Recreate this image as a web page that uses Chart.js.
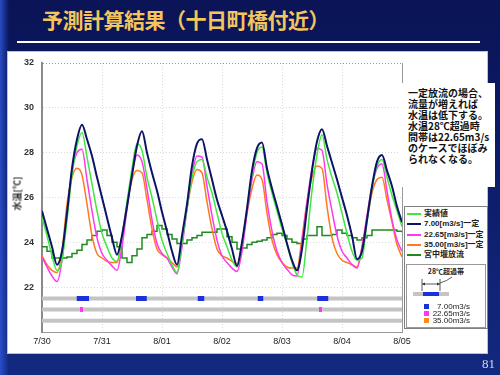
<!DOCTYPE html>
<html>
<head>
<meta charset="utf-8">
<title>予測計算結果(十日町橋付近)</title>
<script src="https://cdn.jsdelivr.net/npm/chart.js"></script>
<style>
  body {
    margin: 0; width: 500px; height: 375px; overflow: hidden; position: relative;
    background:
      linear-gradient(90deg, rgba(45,85,215,0.85) 0px, rgba(45,85,215,0) 9px),
      linear-gradient(180deg, #0a1456 0%, #0e1e6c 55%, #13297f 100%);
    font-family: "Noto Sans CJK JP", sans-serif;
  }
  #title { position: absolute; left: 42px; top: 4px; font-size: 21px; letter-spacing: -0.5px; font-weight: bold; color: #f3c55c; white-space: nowrap; }
  #rule { position: absolute; left: 17px; top: 41px; width: 463px; height: 2px; background: #fff; }
  #panel { position: absolute; left: 7px; top: 51px; width: 479px; height: 301px; background: #fff; border: 1px solid #b8c0dc; }
  #myChart { position: absolute; left: 0; top: 0; }
  #ylabel { position: absolute; left: -3px; top: 187px; width: 40px; text-align: center; font-size: 9px; font-weight: bold; color: #333; transform: rotate(-90deg); }
  #note { position: absolute; left: 400px; top: 83px; width: 95px; height: 104px; background: #fff; }
  #note div { position: absolute; left: 8px; top: 4px; font-size: 10px; line-height: 11px; font-weight: bold; color: #111; white-space: nowrap; }
  #legend { position: absolute; left: 404px; top: 206px; width: 82px; height: 121px; background: #fff; border: 1px solid #808080; }
  .row { position: absolute; left: 2px; height: 10px; }
  .row i { position: absolute; left: 0; top: 4px; width: 14px; height: 2px; }
  .row span { position: absolute; left: 17px; top: -1px; font-family: "Liberation Sans", "Noto Sans CJK JP", sans-serif; font-size: 8px; font-weight: bold; color: #222; white-space: nowrap; line-height: 11px; }
  #band { position: absolute; left: 1px; top: 57px; width: 78px; height: 62px; border: 1px solid #999; }
  #bandTitle { position: absolute; left: 0; width: 78px; top: 1px; text-align: center; font-size: 7px; font-weight: bold; color: #222; }
  .sq { position: absolute; left: 17px; width: 5px; height: 5px; }
  .sqt { position: absolute; left: 22px; width: 41px; text-align: right; font-family: "Liberation Sans", sans-serif; font-size: 8px; color: #222; line-height: 8px; }
  #page { position: absolute; right: 5px; top: 356px; font-family: "Liberation Serif", serif; font-size: 13px; color: #d0d8f0; }
</style>
</head>
<body>
  <div id="title">予測計算結果（十日町橋付近）</div>
  <div id="rule"></div>
  <div id="panel"></div>
  <canvas id="myChart" width="500" height="375"></canvas>
  <div id="ylabel">水温[℃]</div>
  <div id="note"><div>一定放流の場合、<br>流量が増えれば<br>水温は低下する。<br>水温28℃超過時<br>間帯は22.65m3/s<br>のケースでほぼみ<br>られなくなる。</div></div>
  <div id="legend"></div>
  <div id="page">81</div>

  <script>
    // time axis: hours from 7/30 00:00, every 2 hours
    const hours = [0, 2, 4, 6, 8, 10, 12, 14, 16, 18, 20, 22,
      24, 26, 28, 30, 32, 34, 36, 38, 40, 42, 44, 46,
      48, 50, 52, 54, 56, 58, 60, 62, 64, 66, 68, 70,
      72, 74, 76, 78, 80, 82, 84, 86, 88, 90, 92, 94,
      96, 98, 100, 102, 104, 106, 108, 110, 112, 114, 116, 118,
      120, 122, 124, 126, 128, 130, 132, 134, 136, 138, 140, 142,
      144];
    const dateLabels = ['7/30', '7/31', '8/01', '8/02', '8/03', '8/04', '8/05'];

    const observed = [25.1, 24.3, 23.4, 22.75, 23.2, 25.0, 27.0, 28.3, 28.9, 27.8, 26.6, 25.4,
      24.4, 23.8, 23.3, 23.15, 24.3, 25.8, 27.3, 28.4, 28.1, 26.9, 26.0, 25.0,
      24.1, 23.5, 23.0, 22.65, 24.0, 25.5, 26.9, 27.6, 27.7, 26.9, 26.2, 25.3,
      24.4, 23.8, 23.2, 22.9, 24.0, 25.5, 27.0, 28.0, 28.25, 27.1, 26.2, 25.4,
      24.6, 23.9, 23.1, 22.55, 22.45, 24.2, 26.3, 27.9, 28.8, 27.7, 26.9, 26.2,
      25.3, 24.4, 23.6, 23.2, 23.3, 24.9, 26.4, 27.4, 27.7, 26.9, 26.1, 25.4,
      24.7];
    const flow700 = [25.4, 24.6, 23.8, 23.0, 23.6, 25.3, 27.3, 28.6, 29.25, 28.6, 27.85, 26.9,
      26.0, 25.1, 24.2, 23.45, 24.3, 25.6, 27.0, 28.3, 28.95, 28.0, 27.1, 26.3,
      25.35, 24.5, 23.6, 23.0, 24.3, 25.7, 27.4, 28.4, 28.6, 27.7, 26.8, 25.9,
      25.2, 24.5, 23.7, 22.95, 24.0, 25.5, 27.2, 28.2, 28.45, 27.3, 26.4, 25.6,
      24.8, 23.95, 23.2, 22.75, 23.7, 25.5, 27.2, 28.5, 29.05, 28.3, 27.55, 26.8,
      26.0, 25.2, 24.3, 23.25, 23.6, 25.0, 26.5, 27.6, 27.9, 27.2, 26.5, 25.6,
      24.9];
    const flow2265 = [23.35, 22.9, 22.5, 22.25, 23.2, 25.3, 27.2, 28.0, 28.15, 26.8, 25.4, 24.2,
      23.5, 23.2, 22.95, 22.75, 23.8, 25.5, 27.0, 27.9, 27.6, 26.4, 25.0, 23.95,
      23.5, 23.3, 22.9, 22.6, 23.8, 25.5, 27.0, 27.85, 27.8, 26.5, 25.2, 24.1,
      23.4, 23.1, 22.85, 22.7, 23.6, 25.3, 26.8, 27.6, 27.5, 25.8, 24.5, 23.6,
      23.1, 22.8, 22.55, 22.5, 24.0, 25.8, 27.3, 28.2, 28.1, 26.6, 25.4, 24.3,
      23.6, 23.3, 23.0, 22.85, 23.8, 25.2, 26.5, 27.3, 27.5, 26.3, 25.0, 24.1,
      23.6];
    const flow3500 = [23.4, 23.0, 22.75, 22.65, 23.6, 25.7, 26.9, 27.3, 27.0, 25.7, 24.3, 23.5,
      23.3, 23.15, 23.1, 23.1, 24.2, 25.7, 26.8, 27.2, 27.1, 25.9, 24.6, 23.7,
      23.45, 23.3, 23.1, 22.9, 24.0, 25.5, 26.7, 27.25, 27.1, 25.8, 24.6, 23.7,
      23.4, 23.3, 23.15, 23.05, 23.9, 25.3, 26.4, 27.0, 26.8, 25.3, 24.1, 23.45,
      23.1, 22.9, 22.85, 22.85, 24.2, 25.8, 26.9, 27.4, 27.3, 25.6, 24.2, 23.5,
      23.2, 23.1, 23.0, 22.9, 23.8, 25.0, 26.2, 26.8, 26.9, 25.9, 24.9, 23.9,
      23.35];
    const damRelease = [23.8, 23.6, 23.3, 23.3, 23.3, 23.35, 23.5, 23.65, 23.9, 24.1, 24.3, 24.5,
      24.55, 24.3, 24.0, 23.8, 23.3, 23.1, 23.4, 23.7, 24.2, 24.35, 24.5, 24.75,
      24.6, 24.35, 24.15, 23.95, 23.95, 24.1, 24.2, 24.3, 24.45, 24.45, 24.45, 24.6,
      24.6, 24.25, 24.0, 23.7, 23.75, 23.9, 24.0, 24.05, 24.1, 24.2, 24.35, 24.4,
      24.3, 24.15, 24.0, 23.95, 24.15, 24.3, 24.3, 24.7, 24.3, 24.3, 24.35, 24.55,
      24.4, 24.3, 24.2, 24.1, 24.2, 24.3, 24.55, 24.55, 24.55, 24.55, 24.55, 24.5,
      24.45];

    // hours above 28℃ (start / end) for each constant-flow case
    const over700Start = [13.9, 37.6, 62.3, 86.3, 110.1];
    const over700End = [18.8, 41.9, 64.9, 88.5, 114.5];
    const over2265Start = [15.2, 110.8];
    const over2265End = [16.4, 112.0];
    const over3500Start = [];
    const over3500End = [];
    const bandLevels = [21.5, 21.0, 20.5];

    const seriesNames = ['実績値', '7.00[m3/s]一定', '22.65[m3/s]一定', '35.00[m3/s]一定', '宮中堰放流'];
    const caseNames = ['7.00m3/s', '22.65m3/s', '35.00m3/s'];

    const seriesColors = ['#3ee83e', '#0c1466', '#ff38f0', '#ff7a1c', '#1f8a1f'];
    const caseColors = ['#1a32d8', '#ff38f0', '#ff8a20'];

    function pts(vals) {
      return hours.map((h, i) => ({ x: h, y: vals[i] }));
    }
    function spans(starts, ends, level) {
      const out = [];
      starts.forEach((s, i) => {
        out.push({ x: s, y: level }, { x: ends[i], y: level }, { x: ends[i], y: null });
      });
      return out;
    }
    function curve(label, vals, color, width, order, stepped) {
      return {
        label: label, data: pts(vals), borderColor: color, borderWidth: width,
        pointRadius: 0, cubicInterpolationMode: 'monotone', stepped: stepped || false, order: order
      };
    }
    function band(data, color, width, order) {
      return { data: data, borderColor: color, borderWidth: width, pointRadius: 0, borderCapStyle: 'butt', spanGaps: false, order: order };
    }

    Chart.defaults.font.family = "'Liberation Sans', Arial, sans-serif";

    const datasets = [
      curve(seriesNames[1], flow700, seriesColors[1], 2, 1),
      curve(seriesNames[0], observed, seriesColors[0], 1.5, 2),
      curve(seriesNames[2], flow2265, seriesColors[2], 1.5, 3),
      curve(seriesNames[3], flow3500, seriesColors[3], 1.5, 4),
      curve(seriesNames[4], damRelease, seriesColors[4], 1.5, 5, true)
    ];
    bandLevels.forEach((lv) => {
      datasets.push(band([{ x: 0, y: lv }, { x: 144, y: lv }], '#c4c4c4', 4, 8));
    });
    datasets.push(band(spans(over700Start, over700End, bandLevels[0]), caseColors[0], 5, 6));
    datasets.push(band(spans(over2265Start, over2265End, bandLevels[1]), caseColors[1], 5, 6));
    datasets.push(band(spans(over3500Start, over3500End, bandLevels[2]), caseColors[2], 5, 6));

    var ctx = document.getElementById('myChart').getContext('2d');
    var myChart = new Chart(ctx, {
      type: 'line',
      data: { datasets: datasets },
      options: {
        responsive: false,
        animation: false,
        layout: { padding: { left: 12, right: 98, top: 63, bottom: 23 } },
        plugins: { legend: { display: false }, tooltip: { enabled: false } },
        scales: {
          x: {
            type: 'linear', min: 0, max: 144,
            afterFit: (s) => { s.height = 20; },
            ticks: {
              stepSize: 24, maxRotation: 0, padding: 4, color: '#222', font: { size: 9 },
              callback: (v) => dateLabels[v / 24]
            },
            grid: { drawTicks: false, color: (c) => (c.tick && c.tick.value === 144) ? '#999' : '#dadada' },
            border: { color: '#999', width: 1, dash: (c) => (c.tick && c.tick.value === 144) ? [] : [1, 2] }
          },
          y: {
            min: 20, max: 32,
            afterFit: (s) => { s.width = 30; },
            ticks: {
              stepSize: 2, padding: 8, color: '#333', font: { size: 9, weight: 'bold' },
              callback: (v) => v === 20 ? '' : v
            },
            grid: { drawTicks: false, color: (c) => (c.tick && c.tick.value === 32) ? '#999' : '#dadada' },
            border: { color: '#8a8a8a', width: 2, dash: [1, 2] }
          }
        }
      }
    });

    // legend box
    const legend = document.getElementById('legend');
    let html = '';
    seriesNames.forEach((name, i) => {
      html += '<div class="row" style="top:' + (2 + i * 10.3) + 'px"><i style="background:' + seriesColors[i] + '"></i><span>' + name + '</span></div>';
    });
    html += '<div id="band"><div id="bandTitle">28℃超過帯</div>' +
      '<svg width="78" height="62" style="position:absolute;left:0;top:0">' +
      '<path d="M45 12 Q40 16 33 18" stroke="#333" fill="none" stroke-width="0.8"/>' +
      '<line x1="15" y1="14" x2="15" y2="26" stroke="#333" stroke-width="0.8"/>' +
      '<line x1="33" y1="14" x2="33" y2="26" stroke="#333" stroke-width="0.8"/>' +
      '<line x1="15" y1="19" x2="33" y2="19" stroke="#333" stroke-width="0.8"/>' +
      '<path d="M15 19 L18 17.5 L18 20.5 Z M33 19 L30 17.5 L30 20.5 Z" fill="#333"/>' +
      '<rect x="6" y="27" width="36" height="4" fill="#c4c4c4"/>' +
      '<rect x="16" y="27" width="16" height="4" fill="' + caseColors[0] + '"/>' +
      '</svg>';
    caseNames.forEach((name, i) => {
      html += '<div class="sq" style="top:' + (39 + i * 7.2) + 'px;background:' + caseColors[i] + '"></div>' +
        '<div class="sqt" style="top:' + (37.5 + i * 7.2) + 'px">' + name + '</div>';
    });
    html += '</div>';
    legend.innerHTML = html;
  </script>
</body>
</html>
